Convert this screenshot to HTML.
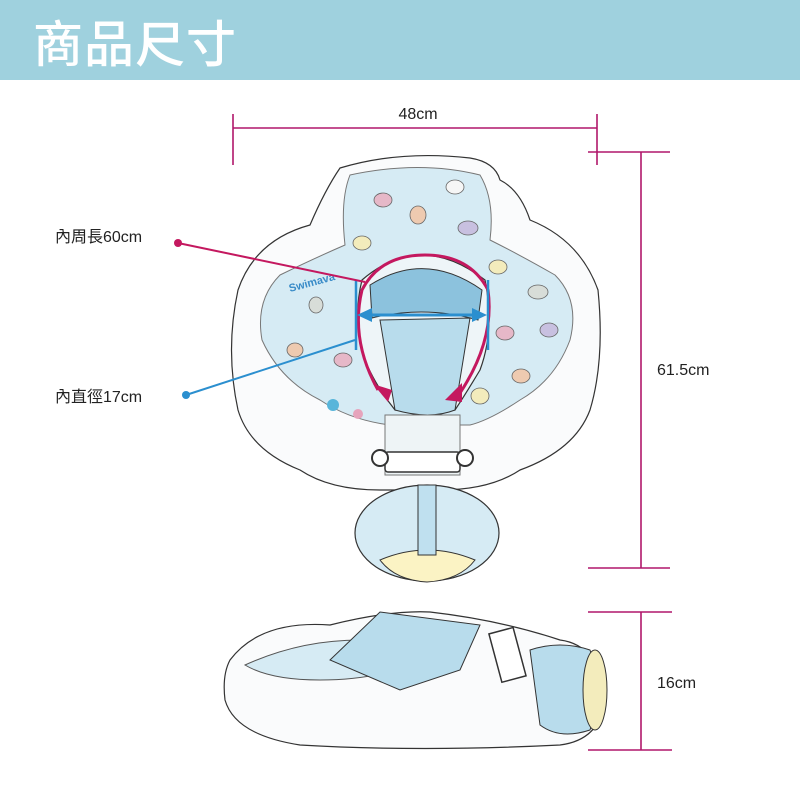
<!DOCTYPE html>
<html><head><meta charset="utf-8"><style>
html,body{margin:0;padding:0;background:#fff;width:800px;height:800px;overflow:hidden}
svg{display:block}
text{font-family:"Liberation Sans","Noto Sans CJK TC",sans-serif}
</style></head><body>
<svg width="800" height="800" viewBox="0 0 800 800">
<rect x="0" y="0" width="800" height="80" fill="#9fd1de"/>
<text x="33" y="62" font-size="50" fill="#fff" font-weight="500" font-family="Noto Sans CJK TC, sans-serif" letter-spacing="1">商品尺寸</text>

<path d="M340 168 Q400 150 470 158 Q495 162 500 180 Q520 190 530 220 Q580 240 598 290 Q605 360 590 410 Q575 450 520 470 Q490 490 440 490 L380 490 Q330 490 300 470 Q250 450 238 410 Q225 350 238 290 Q255 240 310 225 Q325 190 340 168 Z" fill="#fafbfc" stroke="#333" stroke-width="1.2"/>
<path d="M350 175 Q420 160 480 175 Q495 200 490 240 Q520 255 555 275 Q580 300 570 340 Q555 380 520 400 Q490 420 470 425 L390 425 Q350 420 320 400 Q280 380 262 340 Q255 300 280 275 Q315 258 345 245 Q340 200 350 175 Z" fill="#d6ebf4" stroke="#777" stroke-width="1"/>
<path d="M362 280 Q420 230 485 280 Q495 330 480 370 Q465 395 455 410 L395 410 Q375 385 365 360 Q352 320 362 280 Z" fill="#eef5f8" stroke="#333" stroke-width="1.2"/>
<path d="M370 285 Q425 250 482 290 L478 320 Q425 305 372 318 Z" fill="#8cc2dd" stroke="#333"/>
<path d="M380 320 L470 318 L455 410 Q430 420 395 410 Z" fill="#b8dcec" stroke="#333"/>
<rect x="385" y="415" width="75" height="60" fill="#eef4f6" stroke="#777"/>
<rect x="385" y="452" width="75" height="20" rx="3" fill="#fff" stroke="#333" stroke-width="1.5"/>
<circle cx="380" cy="458" r="8" fill="#fff" stroke="#333" stroke-width="2"/>
<circle cx="465" cy="458" r="8" fill="#fff" stroke="#333" stroke-width="2"/>
<ellipse cx="427" cy="533" rx="72" ry="48" fill="#d6ebf4" stroke="#333" stroke-width="1.2"/>
<path d="M380 560 Q427 540 475 560 Q460 580 427 582 Q395 580 380 560 Z" fill="#fbf3c4" stroke="#333"/>
<rect x="418" y="485" width="18" height="70" fill="#bfe0ef" stroke="#333"/>
<g stroke="#666" stroke-width="0.8">
<ellipse cx="383" cy="200" rx="9" ry="7" fill="#e6b8c8"/><ellipse cx="418" cy="215" rx="8" ry="9" fill="#eecab0"/>
<ellipse cx="468" cy="228" rx="10" ry="7" fill="#c8c0e0"/><ellipse cx="362" cy="243" rx="9" ry="7" fill="#f3ecbc"/>
<ellipse cx="498" cy="267" rx="9" ry="7" fill="#f3ecbc"/><ellipse cx="538" cy="292" rx="10" ry="7" fill="#d8ddd8"/>
<ellipse cx="505" cy="333" rx="9" ry="7" fill="#e6b8c8"/><ellipse cx="521" cy="376" rx="9" ry="7" fill="#eecab0"/>
<ellipse cx="480" cy="396" rx="9" ry="8" fill="#f3ecbc"/><ellipse cx="343" cy="360" rx="9" ry="7" fill="#e6b8c8"/>
<ellipse cx="295" cy="350" rx="8" ry="7" fill="#eecab0"/><ellipse cx="549" cy="330" rx="9" ry="7" fill="#c8c0e0"/>
<ellipse cx="455" cy="187" rx="9" ry="7" fill="#f6f6f6"/><ellipse cx="316" cy="305" rx="7" ry="8" fill="#d8ddd8"/>
</g>
<circle cx="333" cy="405" r="6" fill="#58b5da"/><circle cx="358" cy="414" r="5" fill="#e6a4bc"/>
<text x="290" y="292" font-size="11" fill="#3a8cc8" font-weight="bold" transform="rotate(-15 290 292)">Swimava</text>

<path d="M378 390 Q350 340 362 290 Q380 255 425 255 Q470 255 488 290 Q495 340 460 393" fill="none" stroke="#c4185f" stroke-width="3"/>
<path d="M388 402 L373 384 L392 390 Z" fill="#c4185f"/>
<path d="M445 400 L462 383 L462 402 Z" fill="#c4185f"/>
<line x1="356" y1="280" x2="356" y2="350" stroke="#2b8fcf" stroke-width="2.5"/>
<line x1="488" y1="280" x2="488" y2="350" stroke="#2b8fcf" stroke-width="2.5"/>
<line x1="362" y1="315" x2="482" y2="315" stroke="#2b8fcf" stroke-width="3"/>
<path d="M357 315 L372 308 L372 322 Z" fill="#2b8fcf"/><path d="M487 315 L472 308 L472 322 Z" fill="#2b8fcf"/>

<line x1="178" y1="243" x2="365" y2="282" stroke="#c4185f" stroke-width="2"/>
<circle cx="178" cy="243" r="4" fill="#c4185f"/>
<line x1="186" y1="395" x2="355" y2="340" stroke="#2b8fcf" stroke-width="2"/>
<circle cx="186" cy="395" r="4" fill="#2b8fcf"/>
<text x="55" y="242" font-size="16" fill="#222">內周長60cm</text>
<text x="55" y="402" font-size="16" fill="#222">內直徑17cm</text>

<path d="M230 660 Q260 620 330 625 Q390 610 430 612 Q500 620 560 640 Q600 645 605 700 Q600 740 560 745 Q420 752 300 745 Q235 735 225 700 Q222 675 230 660 Z" fill="#fafbfc" stroke="#333" stroke-width="1.2"/>
<path d="M245 665 Q300 640 360 640 L420 660 Q380 680 320 680 Q270 680 245 665 Z" fill="#d6ebf4" stroke="#555"/>
<path d="M330 660 L380 612 L480 625 L460 670 L400 690 Z" fill="#b8dcec" stroke="#333"/>
<path d="M530 650 Q560 640 590 650 Q605 690 590 730 Q560 740 540 725 Z" fill="#b8dcec" stroke="#333"/>
<ellipse cx="595" cy="690" rx="12" ry="40" fill="#f3ecbc" stroke="#333"/>
<rect x="495" y="630" width="25" height="50" fill="#fff" stroke="#333" stroke-width="1.5" transform="rotate(-15 507 655)"/>

<g stroke="#b0176b" stroke-width="1.6">
<line x1="233" y1="128" x2="597" y2="128"/>
<line x1="233" y1="114" x2="233" y2="165"/>
<line x1="597" y1="114" x2="597" y2="165"/>
<line x1="641" y1="152" x2="641" y2="568"/>
<line x1="588" y1="152" x2="670" y2="152"/>
<line x1="588" y1="568" x2="670" y2="568"/>
<line x1="641" y1="612" x2="641" y2="750"/>
<line x1="588" y1="612" x2="672" y2="612"/>
<line x1="588" y1="750" x2="672" y2="750"/>
</g>
<text x="418" y="119" font-size="16" fill="#222" text-anchor="middle">48cm</text>
<text x="657" y="375" font-size="16" fill="#222">61.5cm</text>
<text x="657" y="688" font-size="16" fill="#222">16cm</text>
</svg>
</body></html>
